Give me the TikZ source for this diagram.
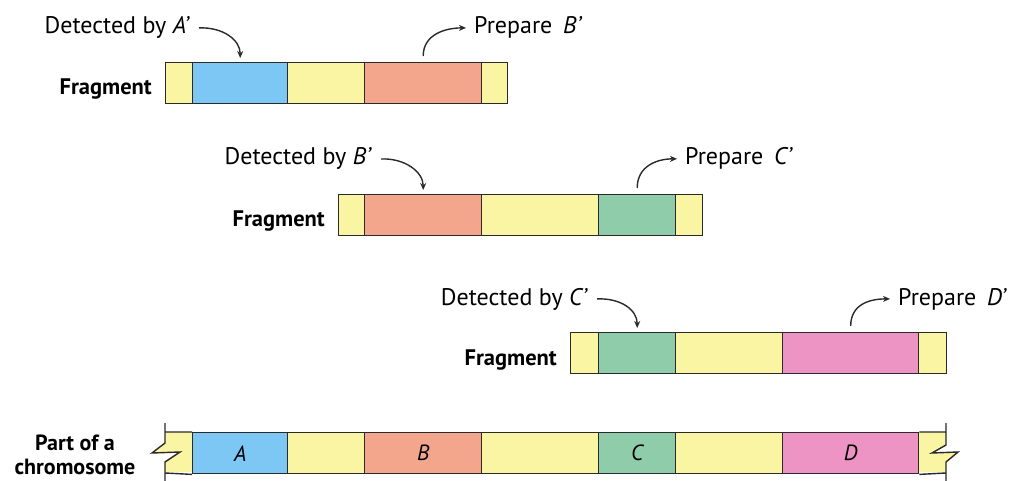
\documentclass[tikz,border=0pt]{standalone}
\usepackage{fontspec}
\setmainfont{PT Sans}
\usetikzlibrary{arrows.meta}
\definecolor{ylw}{HTML}{FAF5A3}
\definecolor{blu}{HTML}{7DC7F5}
\definecolor{sal}{HTML}{F3A68C}
\definecolor{grn}{HTML}{8FCCA9}
\definecolor{pnk}{HTML}{ED94C4}
\definecolor{edge}{HTML}{2A2A2A}
\begin{document}
\begin{tikzpicture}[x=1pt,y=-1pt,
  seg/.style={draw=edge, line width=1.4pt, anchor=north west, inner sep=0pt, minimum height=41pt, font=\fontsize{22}{24}\selectfont\itshape},
  lbl/.style={inner sep=0pt, font=\fontsize{24}{26}\selectfont},
  frag/.style={inner sep=0pt, anchor=base east, font=\fontsize{22.5}{24}\selectfont\bfseries},
  arr/.style={draw=edge, line width=1.4pt, -{Stealth[length=7pt,width=6pt]}},
  brk/.style={draw=edge, line width=1.4pt, line join=miter}]
\useasboundingbox (0,0) rectangle (1020,481);

% ---------- Fragment 1 ----------
\node[seg,fill=ylw,minimum width=27pt]  (f1a) at (165,62) {};
\node[seg,fill=blu,minimum width=95pt]  (f1b) at (192,62) {};
\node[seg,fill=ylw,minimum width=77pt]  (f1c) at (287,62) {};
\node[seg,fill=sal,minimum width=117pt] (f1d) at (364,62) {};
\node[seg,fill=ylw,minimum width=26pt]  (f1e) at (481,62) {};
\node[frag] (F1) at (152,95) {Fragment};
\node[lbl,anchor=base east] (dA) at (190,34) {Detected by \textit{A’}};
\node[lbl,anchor=base west] (pB) at (474,34) {Prepare\hspace{0.45em}\textit{B’}};
\draw[arr] ([xshift=9pt]dA.east) .. controls +(24,-1) and +(0,-18) .. ([yshift=4pt]f1b.north);
\draw[arr] ([yshift=6pt]f1d.north) .. controls +(0,-22) and +(-20,0) .. ([xshift=-8pt]pB.west);

% ---------- Fragment 2 ----------
\node[seg,fill=ylw,minimum width=26pt]  (f2a) at (338,194) {};
\node[seg,fill=sal,minimum width=117pt] (f2b) at (364,194) {};
\node[seg,fill=ylw,minimum width=117pt] (f2c) at (481,194) {};
\node[seg,fill=grn,minimum width=77pt]  (f2d) at (598,194) {};
\node[seg,fill=ylw,minimum width=27pt]  (f2e) at (675,194) {};
\node[frag] (F2) at (325,227) {Fragment};
\node[lbl,anchor=base east] (dB) at (372,165) {Detected by \textit{B’}};
\node[lbl,anchor=base west] (pC) at (685,165) {Prepare\hspace{0.45em}\textit{C’}};
\draw[arr] ([xshift=9pt]dB.east) .. controls +(24,-1) and +(0,-18) .. ([yshift=4pt]f2b.north);
\draw[arr] ([yshift=6pt]f2d.north) .. controls +(0,-22) and +(-20,0) .. ([xshift=-8pt]pC.west);

% ---------- Fragment 3 ----------
\node[seg,fill=ylw,minimum width=28pt]  (f3a) at (570,332) {};
\node[seg,fill=grn,minimum width=77pt]  (f3b) at (598,332) {};
\node[seg,fill=ylw,minimum width=107pt] (f3c) at (675,332) {};
\node[seg,fill=pnk,minimum width=136pt] (f3d) at (782,332) {};
\node[seg,fill=ylw,minimum width=28pt]  (f3e) at (918,332) {};
\node[frag] (F3) at (557,365) {Fragment};
\node[lbl,anchor=base east] (dC) at (588,305) {Detected by \textit{C’}};
\node[lbl,anchor=base west] (pD) at (898,305) {Prepare\hspace{0.45em}\textit{D’}};
\draw[arr] ([xshift=9pt]dC.east) .. controls +(24,-1) and +(0,-18) .. ([yshift=4pt]f3b.north);
\draw[arr] ([yshift=6pt]f3d.north) .. controls +(0,-22) and +(-20,0) .. ([xshift=-8pt]pD.west);

% ---------- Chromosome ----------
\fill[ylw] (165,432) -- (165,443) -- (152,453) -- (180,452) -- (165,462) -- (165,472) -- (192,472) -- (192,432) -- cycle;
\fill[ylw] (918,432) -- (946,432) -- (946,445) -- (932,453) -- (958,452) -- (946,462) -- (946,472) -- (918,472) -- cycle;
\node[seg,fill=blu,minimum width=95pt]  (cA) at (192,432) {A};
\node[seg,fill=ylw,minimum width=77pt]  (c1) at (287,432) {};
\node[seg,fill=sal,minimum width=117pt] (cB) at (364,432) {B};
\node[seg,fill=ylw,minimum width=117pt] (c2) at (481,432) {};
\node[seg,fill=grn,minimum width=77pt]  (cC) at (598,432) {C};
\node[seg,fill=ylw,minimum width=107pt] (c3) at (675,432) {};
\node[seg,fill=pnk,minimum width=136pt] (cD) at (782,432) {D};
\draw[brk] (165,432) -- (cA.north west) (165,473) -- (cA.south west);
\draw[brk] (cD.north east) -- (946,432) (cD.south east) -- (946,473);
\draw[brk] (165,423) -- (165,443) -- (152,453) -- (180,452) -- (165,462) -- (165,481);
\draw[brk] (946,423) -- (946,445) -- (932,453) -- (958,452) -- (946,462) -- (946,481);
\node[inner sep=0pt, align=center, font=\fontsize{22}{24}\selectfont\bfseries] (pc) at (75,455) {Part of a\\chromosome};
\end{tikzpicture}
\end{document}
